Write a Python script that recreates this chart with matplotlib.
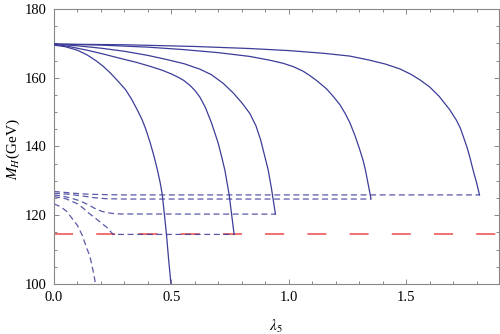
import matplotlib
matplotlib.use("Agg")
import matplotlib.pyplot as plt
from matplotlib.ticker import MultipleLocator

# ---- data ----
# solid curves (lambda5, M_H)
s1_x = [0.0, 0.05, 0.1, 0.142, 0.18, 0.21, 0.241, 0.27, 0.305, 0.33, 0.355, 0.375,
        0.39, 0.41, 0.426, 0.44, 0.452, 0.461, 0.47, 0.479, 0.488, 0.498]
s1_y = [169.5, 169.0, 168.0, 166.6, 164.9, 163.3, 161.3, 159.2, 156.5, 153.8, 150.6, 147.8,
        145.2, 141.0, 137.1, 133.3, 129.5, 126.0, 120.3, 114.4, 107.2, 100.0]

s2_x = [0.0, 0.07, 0.142, 0.21, 0.284, 0.35, 0.41, 0.46, 0.5, 0.53, 0.553, 0.58, 0.6,
        0.621, 0.645, 0.671, 0.687, 0.699, 0.714, 0.728, 0.746, 0.767]
s2_y = [169.8, 169.0, 168.0, 166.9, 165.6, 164.5, 163.3, 162.2, 161.1, 160.1, 159.2, 157.7, 156.3,
        154.4, 151.3, 146.8, 143.5, 141.0, 137.0, 133.0, 125.9, 114.4]

s3_x = [0.0, 0.1, 0.2, 0.3, 0.4, 0.48, 0.553, 0.621, 0.67, 0.72, 0.763, 0.8, 0.834,
        0.86, 0.88, 0.898, 0.912, 0.926, 0.943]
s3_y = [169.8, 169.3, 168.6, 167.7, 166.5, 165.3, 164.1, 162.5, 160.9, 158.4, 155.6, 152.7, 149.6,
        146.0, 141.9, 137.0, 133.2, 127.8, 120.3]

s4_x = [0.0, 0.2, 0.4, 0.55, 0.7, 0.834, 0.919, 0.976, 1.02, 1.061, 1.09, 1.118, 1.16, 1.19,
        1.217, 1.24, 1.26, 1.281, 1.3, 1.316, 1.326, 1.338, 1.35]
s4_y = [169.8, 169.5, 168.9, 168.2, 167.3, 166.2, 165.1, 164.2, 163.2, 161.9, 160.6, 159.2, 156.8, 154.5,
        152.2, 149.6, 146.9, 143.3, 139.5, 136.0, 133.2, 129.0, 124.7]

s5_x = [0.0, 0.3, 0.6, 0.834, 1.0, 1.15, 1.26, 1.345, 1.41, 1.472, 1.52, 1.56, 1.6, 1.64,
        1.685, 1.714, 1.73, 1.742, 1.76, 1.773, 1.784, 1.8, 1.812]
s5_y = [169.8, 169.6, 169.1, 168.5, 167.9, 167.1, 166.3, 165.1, 164.0, 162.6, 161.0, 159.3, 157.3, 154.6,
        150.7, 147.6, 145.4, 143.1, 139.5, 136.3, 133.3, 129.3, 125.9]

# dashed curves
d1_x = [0.0, 0.05, 0.1, 0.15, 0.2, 0.3, 1.812]
d1_y = [126.9, 126.6, 126.3, 126.1, 126.0, 125.9, 125.9]

d2_x = [0.0, 0.06, 0.12, 0.17, 0.22, 0.3, 1.35]
d2_y = [126.4, 126.1, 125.6, 125.1, 124.8, 124.7, 124.7]

d3_x = [0.0, 0.04, 0.07, 0.1, 0.125, 0.15, 0.17, 0.2, 0.22, 0.25, 0.28, 0.943]
d3_y = [125.9, 125.5, 125.0, 124.4, 123.7, 122.9, 122.1, 121.2, 120.8, 120.5, 120.35, 120.3]

d4_x = [0.0, 0.05, 0.1, 0.125, 0.15, 0.175, 0.2, 0.224, 0.252, 0.767]
d4_y = [125.4, 124.8, 123.3, 122.0, 120.5, 119.2, 117.8, 116.5, 114.4, 114.4]

d5_x = [0.0, 0.03, 0.054, 0.08, 0.1, 0.12, 0.139, 0.153, 0.166, 0.177]
d5_y = [123.3, 122.4, 121.1, 118.8, 117.0, 114.2, 110.5, 108.0, 104.0, 100.0]

lep_bound = 114.4

x_ticks = [0.0, 0.5, 1.0, 1.5]
y_ticks = [100, 120, 140, 160, 180]

solid = [(s1_x, s1_y), (s2_x, s2_y), (s3_x, s3_y), (s4_x, s4_y), (s5_x, s5_y)]
dashed = [(d1_x, d1_y), (d2_x, d2_y), (d3_x, d3_y), (d4_x, d4_y), (d5_x, d5_y)]

# ---- style ----
plt.rcParams['mathtext.fontset'] = 'stix'
plt.rcParams['font.family'] = ['Liberation Serif', 'DejaVu Serif']
plt.rcParams['lines.scale_dashes'] = False

blue = '#3d3d99'
red = '#f06464'
grey = '#888888'

fig = plt.figure(figsize=(5.0, 3.34), dpi=100)
ax = fig.add_axes([0.108, 0.150, 0.890, 0.823])

ax.axhline(lep_bound, color=red, lw=1.3, dashes=(13.7, 16.7), zorder=1)

for xs, ys in dashed:
    ax.plot(xs, ys, color=blue, lw=0.9, dashes=(4.3, 2.6), alpha=0.85, zorder=2)
for xs, ys in solid:
    ax.plot(xs, ys, color=blue, lw=0.9, zorder=3)

ax.set_xlim(0.0, 1.895)
ax.set_ylim(100, 180)
ax.set_xticks(x_ticks)
ax.set_xticklabels([f"{t:.1f}" for t in x_ticks])
ax.set_yticks(y_ticks)
ax.set_yticklabels([str(t) for t in y_ticks])
ax.xaxis.set_minor_locator(MultipleLocator(0.1))
ax.yaxis.set_minor_locator(MultipleLocator(5))

for sp in ax.spines.values():
    sp.set_color(grey)
    sp.set_linewidth(0.8)

ax.tick_params(which='both', direction='in', top=True, right=True,
               color=grey, labelsize=10.5, labelcolor='black', width=0.7)
ax.tick_params(which='major', length=3.4, pad=5)
ax.tick_params(which='minor', length=2.0)

ax.set_xlabel(r'$\lambda_5$', fontsize=11)
ax.xaxis.set_label_coords(0.498, -0.125)
ax.set_ylabel(r'$M_H$(GeV)', fontsize=11)
ax.yaxis.set_label_coords(-0.072, 0.49)

fig.savefig('out.png', dpi=100)
